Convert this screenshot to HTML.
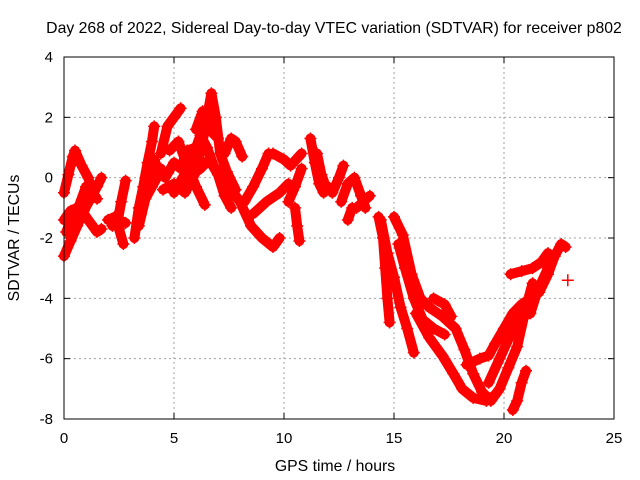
<!DOCTYPE html>
<html><head><meta charset="utf-8"><style>
body{margin:0;background:#fff;}
svg{display:block;font-family:"Liberation Sans",sans-serif;}
</style></head><body>
<svg id="chart" width="640" height="480" xmlns="http://www.w3.org/2000/svg">
<rect width="640" height="480" fill="#fff"/>
<text x="334" y="33" font-size="15.8" text-anchor="middle">Day 268 of 2022, Sidereal Day-to-day VTEC variation (SDTVAR) for receiver p802</text>
<text x="335" y="471" font-size="15.8" text-anchor="middle">GPS time / hours</text>
<text x="19" y="238" font-size="15.8" text-anchor="middle" transform="rotate(-90 19 238)">SDTVAR / TECUs</text>
<g id="grid"></g>
<g id="ticks"></g>
<g id="marks"></g>
<rect x="64" y="57" width="550" height="362" fill="none" stroke="#000" stroke-width="1"/>
</svg>
<script>
const xTicks=[0,5,10,15,20,25];
const yTicks=[4,2,0,-2,-4,-6,-8];
const tracks=[
[[0,-2.6],[0.3,-2.1],[0.6,-1.6],[0.9,-1.1],[1.2,-0.7],[1.5,-0.3],[1.7,0]],
[[0,-1.4],[0.3,-1.1],[0.6,-1.0],[0.9,-1.2],[1.2,-1.5],[1.5,-1.8],[1.7,-1.7]],
[[0,-0.5],[0.2,0.1],[0.4,0.7],[0.5,0.9],[0.8,0.4],[1.1,0],[1.3,-0.5],[1.5,-0.7]],
[[0.1,-1.8],[0.4,-1.3],[0.7,-0.9],[1.0,-0.3],[1.3,-0.4]],
[[2.0,-1.4],[2.3,-1.3],[2.5,-1.7],[2.7,-2.2]],
[[2.2,-1.6],[2.5,-1.4],[2.8,-1.5]],
[[2.4,-1.6],[2.6,-0.8],[2.8,-0.1]],
[[3.2,-2.0],[3.4,-1.0],[3.6,-0.3],[3.8,0.5],[4.0,1.2],[4.1,1.7]],
[[3.4,-1.6],[3.7,-0.7],[4.0,-0.3],[4.3,0.1],[4.4,0.3]],
[[3.5,-1.2],[3.8,-0.2],[4.1,0.6],[4.3,0.2]],
[[4.4,0.8],[4.7,1.7],[5.0,2.0],[5.3,2.3]],
[[4.6,0],[5.0,0.5],[5.3,0.3],[5.6,0.9],[6.0,1.0],[6.2,0.5]],
[[4.5,-0.4],[5.0,-0.2],[5.5,-0.5],[6.0,0.2],[6.3,1.2],[6.5,2.0],[6.7,2.8],[6.9,2.0],[7.1,0.8],[7.4,0.2],[7.8,-0.4]],
[[4.8,0.9],[5.2,1.2],[5.6,0.4],[6.0,-0.3],[6.4,-0.9]],
[[5.0,-0.5],[5.4,0.0],[5.8,0.6],[6.2,1.4],[6.5,1.0],[6.8,0.4],[7.2,-0.2]],
[[5.8,0.1],[6.2,0.3],[6.6,0.6],[7.0,0.1],[7.3,-0.6],[7.6,-1.0]],
[[6.0,1.6],[6.3,2.2],[6.6,1.6],[7.0,1.3]],
[[7.3,0.8],[7.6,1.3],[7.8,1.2],[8.1,0.7]],
[[7.5,-0.3],[8.0,-0.8],[8.5,-1.6],[9.0,-2.0],[9.5,-2.3],[9.8,-2.0]],
[[8.2,-0.8],[8.6,-0.3],[9.0,0.3],[9.3,0.8]],
[[8.6,-1.2],[9.2,-0.8],[9.8,-0.5],[10.2,-0.2]],
[[9.5,0.8],[10.0,0.6],[10.3,0.4],[10.8,0.8]],
[[10.2,-0.8],[10.5,-0.3],[10.8,0.3]],
[[10.5,-1.0],[10.6,-1.6],[10.7,-2.1]],
[[11.2,1.3],[11.4,0.5],[11.6,-0.2],[11.8,-0.5],[12.0,-0.3]],
[[11.5,0.8],[11.7,0.1],[11.9,-0.3]],
[[12.2,-0.5],[12.5,0],[12.7,0.4]],
[[12.6,-0.8],[12.9,-0.2],[13.2,0],[13.5,-0.6],[13.7,-1.0]],
[[12.9,-1.4],[13.1,-1.0]],
[[13.3,-1.0],[13.6,-0.8],[13.9,-0.6]],
[[14.3,-1.3],[14.5,-2.0],[14.6,-3.0],[14.7,-4.0],[14.8,-4.8]],
[[14.4,-1.4],[14.7,-2.5],[15.0,-3.3],[15.3,-4.3],[15.6,-5.0],[15.9,-5.8]],
[[15.0,-1.3],[15.4,-1.9],[15.8,-3.2],[16.2,-4.0],[16.6,-4.3],[17.2,-4.6],[17.8,-5.0],[18.2,-5.7],[18.6,-6.5],[19.0,-7.1],[19.4,-7.4],[19.8,-7.0],[20.2,-6.3],[20.6,-5.6],[21.0,-4.3],[21.3,-3.5]],
[[15.2,-2.2],[15.5,-3.0],[15.9,-4.0],[16.3,-4.7],[16.8,-5.0],[17.3,-5.2]],
[[16.0,-4.5],[16.6,-5.3],[17.2,-5.9],[17.7,-6.5],[18.1,-7.0],[18.6,-7.3],[19.2,-7.4],[19.6,-7.2]],
[[16.8,-4.0],[17.3,-4.2],[17.6,-4.6]],
[[18.3,-6.2],[18.9,-6.0],[19.3,-5.9],[19.6,-5.5],[20.0,-5.0],[20.4,-4.5],[20.8,-4.2],[21.2,-4.0],[21.6,-3.8],[22.0,-3.2],[22.3,-2.6],[22.6,-2.2],[22.8,-2.3]],
[[19.3,-6.8],[19.8,-6.0],[20.3,-5.2],[20.8,-4.6],[21.2,-4.5],[21.5,-3.8],[22.0,-3.0],[22.3,-2.6]],
[[20.3,-3.2],[20.8,-3.1],[21.3,-3.0],[21.7,-2.8],[22.0,-2.5]],
[[20.4,-7.7],[20.6,-7.4],[20.8,-6.8],[21.0,-6.4]],
[[22.9,-3.4]]
];
const NS="http://www.w3.org/2000/svg";
const x=t=>64+t*22;
const y=v=>57+(4-v)*(362/12);
function mk(tag,attrs,parent){const e=document.createElementNS(NS,tag);for(const k in attrs)e.setAttribute(k,attrs[k]);parent.appendChild(e);return e;}
const grid=document.getElementById('grid'),ticks=document.getElementById('ticks'),marks=document.getElementById('marks'),svg=document.getElementById('chart');
xTicks.forEach(t=>{
  if(t>0&&t<25){const g=mk('line',{x1:x(t),x2:x(t),y1:57,y2:419,stroke:'#a0a0a0','stroke-dasharray':'2,3'},grid);
  
  }
  mk('line',{x1:x(t),x2:x(t),y1:419,y2:413,stroke:'#000'},ticks);
  mk('line',{x1:x(t),x2:x(t),y1:57,y2:63,stroke:'#000'},ticks);
  const l=mk('text',{x:x(t),y:443,'font-size':15,'text-anchor':'middle'},svg);
  
  
  l.textContent=t;
});
yTicks.forEach(v=>{
  if(v<4&&v>-8){const g=mk('line',{x1:64,x2:614,y1:y(v),y2:y(v),stroke:'#a0a0a0','stroke-dasharray':'2,3'},grid);
  
  }
  mk('line',{x1:64,x2:70,y1:y(v),y2:y(v),stroke:'#000'},ticks);
  mk('line',{x1:614,x2:608,y1:y(v),y2:y(v),stroke:'#000'},ticks);
  const l=mk('text',{x:53,y:y(v)+5,'font-size':15,'text-anchor':'end'},svg);
  
  
  l.textContent=v;
});
tracks.forEach((tr,i)=>{
  const pl=mk('polyline',{points:tr.map(p=>x(p[0])+','+y(p[1])).join(' '),fill:'none',stroke:'#ff0000','stroke-width':10,'stroke-linejoin':'round','stroke-linecap':'round'},marks);
  
  
  tr.forEach(p=>{
    const px=x(p[0]),py=y(p[1]);
    const m=mk('path',{d:`M${px-6},${py}h12M${px},${py-6}v12`,stroke:'#ff0000','stroke-width':1.5},marks);
    
    
  });
});
</script>
</body></html>
